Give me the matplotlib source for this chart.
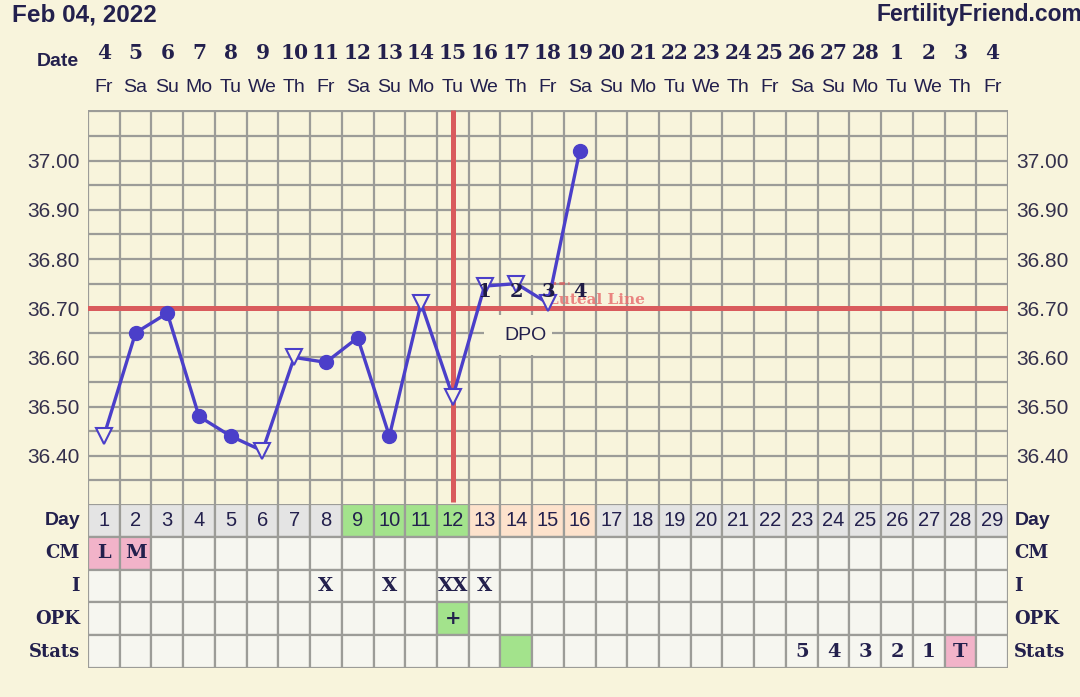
import matplotlib.pyplot as plt
import matplotlib.transforms as mtransforms
from matplotlib.patches import Rectangle

# --- data ---
cycle_days = list(range(1, 30))
dates = [4, 5, 6, 7, 8, 9, 10, 11, 12, 13, 14, 15, 16, 17, 18, 19, 20, 21, 22,
         23, 24, 25, 26, 27, 28, 1, 2, 3, 4]
weekdays = ['Fr', 'Sa', 'Su', 'Mo', 'Tu', 'We', 'Th'] * 4 + ['Fr']

temp_days = list(range(1, 17))
temps = [36.44, 36.65, 36.69, 36.48, 36.44, 36.41, 36.60, 36.59,
         36.64, 36.44, 36.71, 36.52, 36.745, 36.75, 36.71, 37.02]
open_days = [1, 6, 7, 11, 12, 13, 14, 15]   # discarded / open triangle temps

coverline = 36.70
ovulation_day = 12
dpo_days = [13, 14, 15, 16]
dpo_labels = ['1', '2', '3', '4']

fertile_days = [9, 10, 11, 12]
luteal_days = [13, 14, 15, 16]
cm_days, cm_vals = [1, 2], ['L', 'M']
i_days, i_vals = [8, 10, 12, 13], ['X', 'X', 'XX', 'X']
opk_days, opk_vals = [12], ['+']
stats_days, stats_vals = [23, 24, 25, 26, 27, 28], ['5', '4', '3', '2', '1', 'T']
stats_green = [14]

ytick_vals = [36.40, 36.50, 36.60, 36.70, 36.80, 36.90, 37.00]
row_names = ['Day', 'CM', 'I', 'OPK', 'Stats']

# --- colours ---
bg = '#f8f4dc'
navy = '#23204d'
purple = '#4b3fc9'
red = '#d95b5d'
grid_c = '#9c9c98'
cell_c = '#f6f6f0'
day_c = '#e4e4e4'
green = '#a3e38c'
peach = '#fde2cc'
pink = '#f2b3c9'

W, H = 1080, 697
fig = plt.figure(figsize=(W / 100, H / 100), dpi=100, facecolor=bg)


def fy(py):
    return 1 - py / H


# main temperature chart
ax = fig.add_axes([88 / W, fy(504), 920 / W, (504 - 110) / H])
ax.set_facecolor(bg)
ax.set_xlim(0.5, 29.5)
ax.set_ylim(36.302, 37.103)
for s in ax.spines.values():
    s.set_visible(False)

for k in range(30):
    ax.axvline(k + 0.5, color=grid_c, lw=1.6, zorder=1)
for k in range(16):
    ax.axhline(36.35 + 0.05 * k, color=grid_c, lw=1.6, zorder=1)

ax.set_xticks([])
ax.set_yticks(ytick_vals)
ax.set_yticklabels([f'{v:.2f}' for v in ytick_vals])
ax.tick_params(axis='y', length=0, pad=6, labelleft=True, labelright=True,
               labelsize=15, labelcolor='#34304c')
for lab in ax.get_yticklabels():
    lab.set_fontfamily('Liberation Sans')

# coverline and ovulation line
ax.axhline(coverline, color=red, lw=3.6, zorder=2)
ax.plot([ovulation_day, ovulation_day], [36.307, 37.103], color=red, lw=3.6,
        zorder=2, solid_capstyle='butt')

# DPO box
ax.add_patch(Rectangle((12.97, 36.605), 2.16, 0.082, facecolor=bg,
                       edgecolor='none', zorder=2.5))
ax.text(14.3, 36.645, 'DPO', ha='center', va='center', fontsize=14,
        family='Liberation Sans', color=navy, zorder=3)

# temperature line
ax.plot(temp_days, temps, color=purple, lw=2.4, zorder=4)
for d, t in zip(temp_days, temps):
    if d in open_days:
        ax.plot(d, t, marker='v', ms=12, mfc=bg, mec=purple, mew=1.5, zorder=5)
    else:
        ax.plot(d, t, marker='o', ms=10, color=purple, zorder=5)

# luteal line label
ax.plot([15.05, 15.65], [36.752, 36.752], color=red, lw=2, ls=(0, (2, 1.2)),
        alpha=0.8, zorder=3)
ax.text(15.0, 36.716, 'Luteal Line', fontsize=11, fontweight='bold',
        family='DejaVu Serif', color='#e87070', alpha=0.85, zorder=3,
        ha='left', va='center')

for d, lab in zip(dpo_days, dpo_labels):
    ax.text(d, 36.733, lab, ha='center', va='center', fontsize=14,
            fontweight='bold', family='DejaVu Serif', color='#1f1c45', zorder=6)

# header
tr = mtransforms.blended_transform_factory(ax.transData, fig.transFigure)
for d, dt, wd in zip(cycle_days, dates, weekdays):
    ax.text(d, fy(53), str(dt), transform=tr, ha='center', va='center',
            fontsize=14.5, fontweight='bold', family='DejaVu Serif', color=navy,
            clip_on=False)
    ax.text(d, fy(87), wd, transform=tr, ha='center', va='center',
            fontsize=14, family='Liberation Sans', color=navy, clip_on=False)

fig.text(58 / W, fy(62), 'Date', ha='center', va='center', fontsize=14,
         fontweight='bold', family='Liberation Sans', color=navy)
fig.text(12 / W, fy(15), 'Feb 04, 2022', ha='left', va='center', fontsize=17.5,
         fontweight='bold', family='Liberation Sans', color=navy)
fig.text(1082 / W, fy(15), 'FertilityFriend.com', ha='right', va='center',
         fontsize=16.5, fontweight='bold', family='Liberation Sans', color=navy)

# data table
tab = fig.add_axes([88 / W, fy(668), 920 / W, 164 / H])
tab.set_xlim(0.5, 29.5)
tab.set_ylim(5, 0)
tab.axis('off')

for r in range(5):
    for d in cycle_days:
        fc = cell_c
        if r == 0:
            fc = day_c
            if d in fertile_days:
                fc = green
            elif d in luteal_days:
                fc = peach
        elif r == 1 and d in cm_days:
            fc = pink
        elif r == 3 and d in opk_days:
            fc = green
        elif r == 4 and d in stats_green:
            fc = green
        elif r == 4 and d in stats_days and stats_vals[stats_days.index(d)] == 'T':
            fc = pink
        tab.add_patch(Rectangle((d - 0.5, r), 1, 1, facecolor=fc,
                                edgecolor=grid_c, lw=1.6))

for d in cycle_days:
    tab.text(d, 0.5, str(d), ha='center', va='center', fontsize=14.5,
             family='Liberation Sans', color=navy)

serif_kw = dict(ha='center', va='center', fontsize=14, fontweight='bold',
                family='DejaVu Serif', color=navy)
for d, v in zip(cm_days, cm_vals):
    tab.text(d, 1.5, v, **serif_kw)
for d, v in zip(i_days, i_vals):
    tab.text(d, 2.5, v, **serif_kw)
for d, v in zip(opk_days, opk_vals):
    tab.text(d, 3.5, v, **serif_kw)
for d, v in zip(stats_days, stats_vals):
    tab.text(d, 4.5, v, **serif_kw)

for r, name in enumerate(row_names):
    if name == 'Day':
        kw = dict(family='Liberation Sans', fontsize=14, fontweight='bold')
    else:
        kw = dict(family='DejaVu Serif', fontsize=13, fontweight='bold')
    tab.text(0.25, r + 0.5, name, ha='right', va='center', color=navy,
             clip_on=False, **kw)
    tab.text(29.7, r + 0.5, name, ha='left', va='center', color=navy,
             clip_on=False, **kw)

fig.savefig('out.png', dpi=100, facecolor=bg)
